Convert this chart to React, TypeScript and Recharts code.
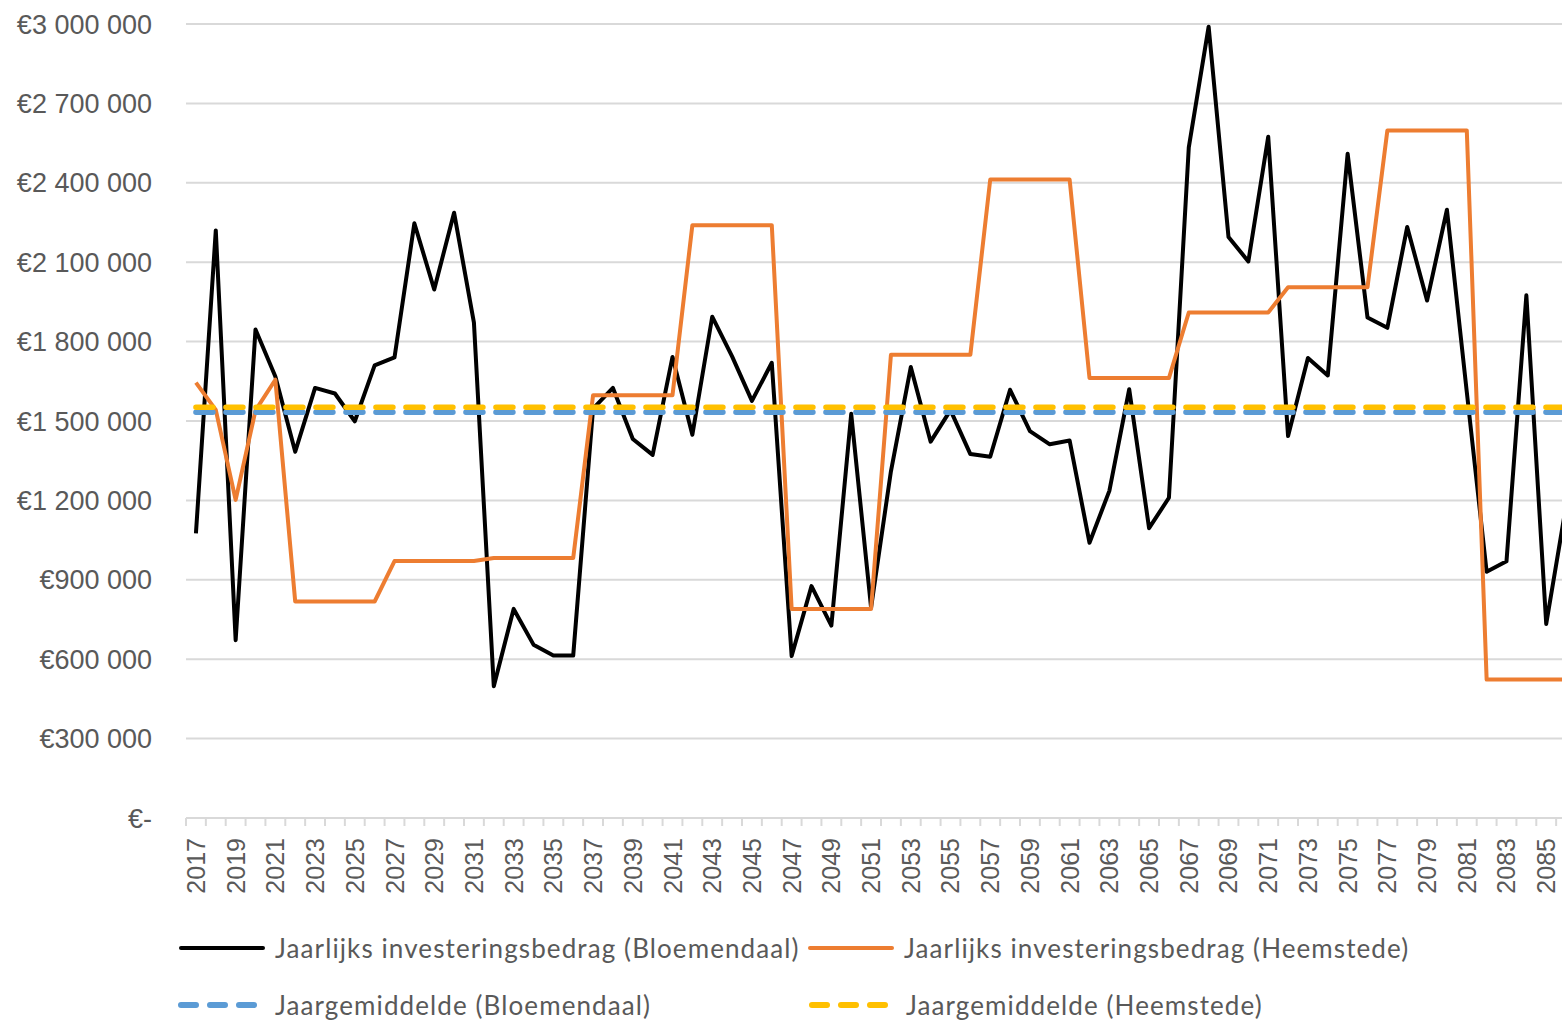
import React from 'react';
import { LineChart, Line, XAxis, YAxis, CartesianGrid, Legend } from 'recharts';

const years = [
  '2017', '2018', '2019', '2020', '2021', '2022', '2023', '2024', '2025', '2026',
  '2027', '2028', '2029', '2030', '2031', '2032', '2033', '2034', '2035', '2036',
  '2037', '2038', '2039', '2040', '2041', '2042', '2043', '2044', '2045', '2046',
  '2047', '2048', '2049', '2050', '2051', '2052', '2053', '2054', '2055', '2056',
  '2057', '2058', '2059', '2060', '2061', '2062', '2063', '2064', '2065', '2066',
  '2067', '2068', '2069', '2070', '2071', '2072', '2073', '2074', '2075', '2076',
  '2077', '2078', '2079', '2080', '2081', '2082', '2083', '2084', '2085', '2086',
];

// Jaarlijks investeringsbedrag (Bloemendaal)
const bloemendaal = [
  1075000, 2220000, 672000, 1846000, 1668000, 1384000, 1625000, 1604000, 1499000, 1710000,
  1740000, 2247000, 1997000, 2287000, 1872000, 498000, 790000, 655000, 614000, 614000,
  1547000, 1625000, 1432000, 1372000, 1742000, 1448000, 1894000, 1744000, 1576000, 1720000,
  612000, 876000, 727000, 1527000, 795000, 1310000, 1704000, 1422000, 1541000, 1375000,
  1365000, 1618000, 1462000, 1412000, 1426000, 1040000, 1236000, 1620000, 1095000, 1210000,
  2534000, 2990000, 2195000, 2103000, 2574000, 1443000, 1738000, 1672000, 2510000, 1891000,
  1852000, 2233000, 1955000, 2298000, 1610000, 930000, 970000, 1975000, 733000, 1180000,
];

// Jaarlijks investeringsbedrag (Heemstede)
const heemstede = [
  1645000, 1542000, 1202000, 1540000, 1656000, 818000, 818000, 818000, 818000, 818000,
  971000, 971000, 971000, 971000, 971000, 982000, 982000, 982000, 982000, 982000,
  1597000, 1597000, 1597000, 1597000, 1597000, 2240000, 2240000, 2240000, 2240000, 2240000,
  790000, 790000, 790000, 790000, 790000, 1750000, 1750000, 1750000, 1750000, 1750000,
  2412000, 2412000, 2412000, 2412000, 2412000, 1662000, 1662000, 1662000, 1662000, 1662000,
  1910000, 1910000, 1910000, 1910000, 1910000, 2005000, 2005000, 2005000, 2005000, 2005000,
  2598000, 2598000, 2598000, 2598000, 2598000, 523000, 523000, 523000, 523000, 523000,
];

// Jaargemiddelde
const avgBloemendaal = 1533000;
const avgHeemstede = 1552000;

const yTicks = [0, 300000, 600000, 900000, 1200000, 1500000, 1800000, 2100000, 2400000, 2700000, 3000000];

const seriesNames = {
  bloemendaal: 'Jaarlijks investeringsbedrag (Bloemendaal)',
  heemstede: 'Jaarlijks investeringsbedrag (Heemstede)',
  avgB: 'Jaargemiddelde (Bloemendaal)',
  avgH: 'Jaargemiddelde (Heemstede)',
};

const data = years.map((year, i) => ({
  year,
  bloemendaal: bloemendaal[i],
  heemstede: heemstede[i],
  avgB: avgBloemendaal,
  avgH: avgHeemstede,
}));

const GREY = '#595959';
const GRID = '#d9d9d9';
const AXIS_FONT = '"Liberation Sans", Arial, sans-serif';
const LEGEND_FONT = 'Lato, "Liberation Sans", sans-serif';
const HALF_STEP = 9.93;

const formatEuro = (v: number) => {
  if (v === 0) return '€-';
  return '€' + String(v).replace(/\B(?=(\d{3})+(?!\d))/g, ' ');
};

function YearTick({ x, y, payload, index }: any) {
  const isLast = index === years.length - 1;
  return (
    <g>
      <line x1={x - HALF_STEP} x2={x - HALF_STEP} y1={y} y2={y + 8} stroke={GRID} strokeWidth={2} />
      {isLast && <line x1={x + HALF_STEP} x2={x + HALF_STEP} y1={y} y2={y + 8} stroke={GRID} strokeWidth={2} />}
      {index % 2 === 0 && (
        <text
          x={x}
          y={y + 20}
          transform={`rotate(-90, ${x}, ${y + 20})`}
          textAnchor="end"
          dominantBaseline="central"
          fontFamily={AXIS_FONT}
          fontSize={25}
          fill={GREY}
        >
          {payload.value}
        </text>
      )}
    </g>
  );
}

function LegendSample({ color, dashed }: { color: string; dashed?: boolean }) {
  return (
    <svg width={90} height={12} style={{ display: 'block' }}>
      <line
        x1={4}
        x2={dashed ? 82 : 86}
        y1={6}
        y2={6}
        stroke={color}
        strokeWidth={dashed ? 6 : 4}
        strokeLinecap="round"
        strokeDasharray={dashed ? '15 14' : undefined}
      />
    </svg>
  );
}

const legendItems = [
  { key: 'bloemendaal', color: '#000000', dashed: false, left: 177, top: 28 },
  { key: 'heemstede', color: '#ed7d31', dashed: false, left: 806, top: 28 },
  { key: 'avgB', color: '#5b9bd5', dashed: true, left: 177, top: 85 },
  { key: 'avgH', color: '#ffc000', dashed: true, left: 808, top: 85 },
];

function renderLegend() {
  return (
    <div style={{ position: 'relative', width: 1576, height: 110 }}>
      {legendItems.map((it) => (
        <div
          key={it.key}
          style={{
            position: 'absolute',
            left: it.left,
            top: it.top - 17,
            height: 34,
            display: 'flex',
            alignItems: 'center',
          }}
        >
          <LegendSample color={it.color} dashed={it.dashed} />
          <span
            style={{
              marginLeft: 8,
              fontFamily: LEGEND_FONT,
              fontSize: 26,
              color: GREY,
              letterSpacing: 1.1,
              whiteSpace: 'nowrap',
            }}
          >
            {seriesNames[it.key as keyof typeof seriesNames]}
          </span>
        </div>
      ))}
    </div>
  );
}

export default function App() {
  return (
    <div style={{ position: 'fixed', left: 0, top: 0, width: 1562, height: 1023, overflow: 'hidden', background: '#fff' }}>
      <LineChart width={1576} height={1060} data={data} margin={{ top: 24, right: 0, left: 0, bottom: 0 }}>
        <CartesianGrid vertical={false} stroke={GRID} strokeWidth={2} />
        <XAxis
          dataKey="year"
          interval={0}
          height={132}
          padding={{ left: HALF_STEP, right: HALF_STEP }}
          tickLine={false}
          tickSize={0}
          tickMargin={0}
          axisLine={{ stroke: GRID, strokeWidth: 2 }}
          tick={<YearTick />}
        />
        <YAxis
          width={186}
          domain={[0, 3000000]}
          ticks={yTicks}
          interval={0}
          tickFormatter={formatEuro}
          axisLine={false}
          tickLine={false}
          tickSize={0}
          tickMargin={34}
          tick={{ fill: GREY, fontSize: 27, fontFamily: AXIS_FONT }}
        />
        <Legend content={renderLegend} wrapperStyle={{ position: 'absolute', left: 0, top: 920, width: 1576, height: 110 }} />
        <Line
          dataKey="bloemendaal"
          name={seriesNames.bloemendaal}
          stroke="#000000"
          strokeWidth={4}
          strokeLinejoin="round"
          dot={false}
          isAnimationActive={false}
        />
        <Line
          dataKey="heemstede"
          name={seriesNames.heemstede}
          stroke="#ed7d31"
          strokeWidth={4}
          strokeLinejoin="round"
          dot={false}
          isAnimationActive={false}
        />
        <Line
          dataKey="avgB"
          name={seriesNames.avgB}
          stroke="#5b9bd5"
          strokeWidth={5.5}
          strokeDasharray="17 13"
          strokeLinecap="round"
          dot={false}
          isAnimationActive={false}
        />
        <Line
          dataKey="avgH"
          name={seriesNames.avgH}
          stroke="#ffc000"
          strokeWidth={5.5}
          strokeDasharray="17 13"
          strokeLinecap="round"
          dot={false}
          isAnimationActive={false}
        />
      </LineChart>
    </div>
  );
}
